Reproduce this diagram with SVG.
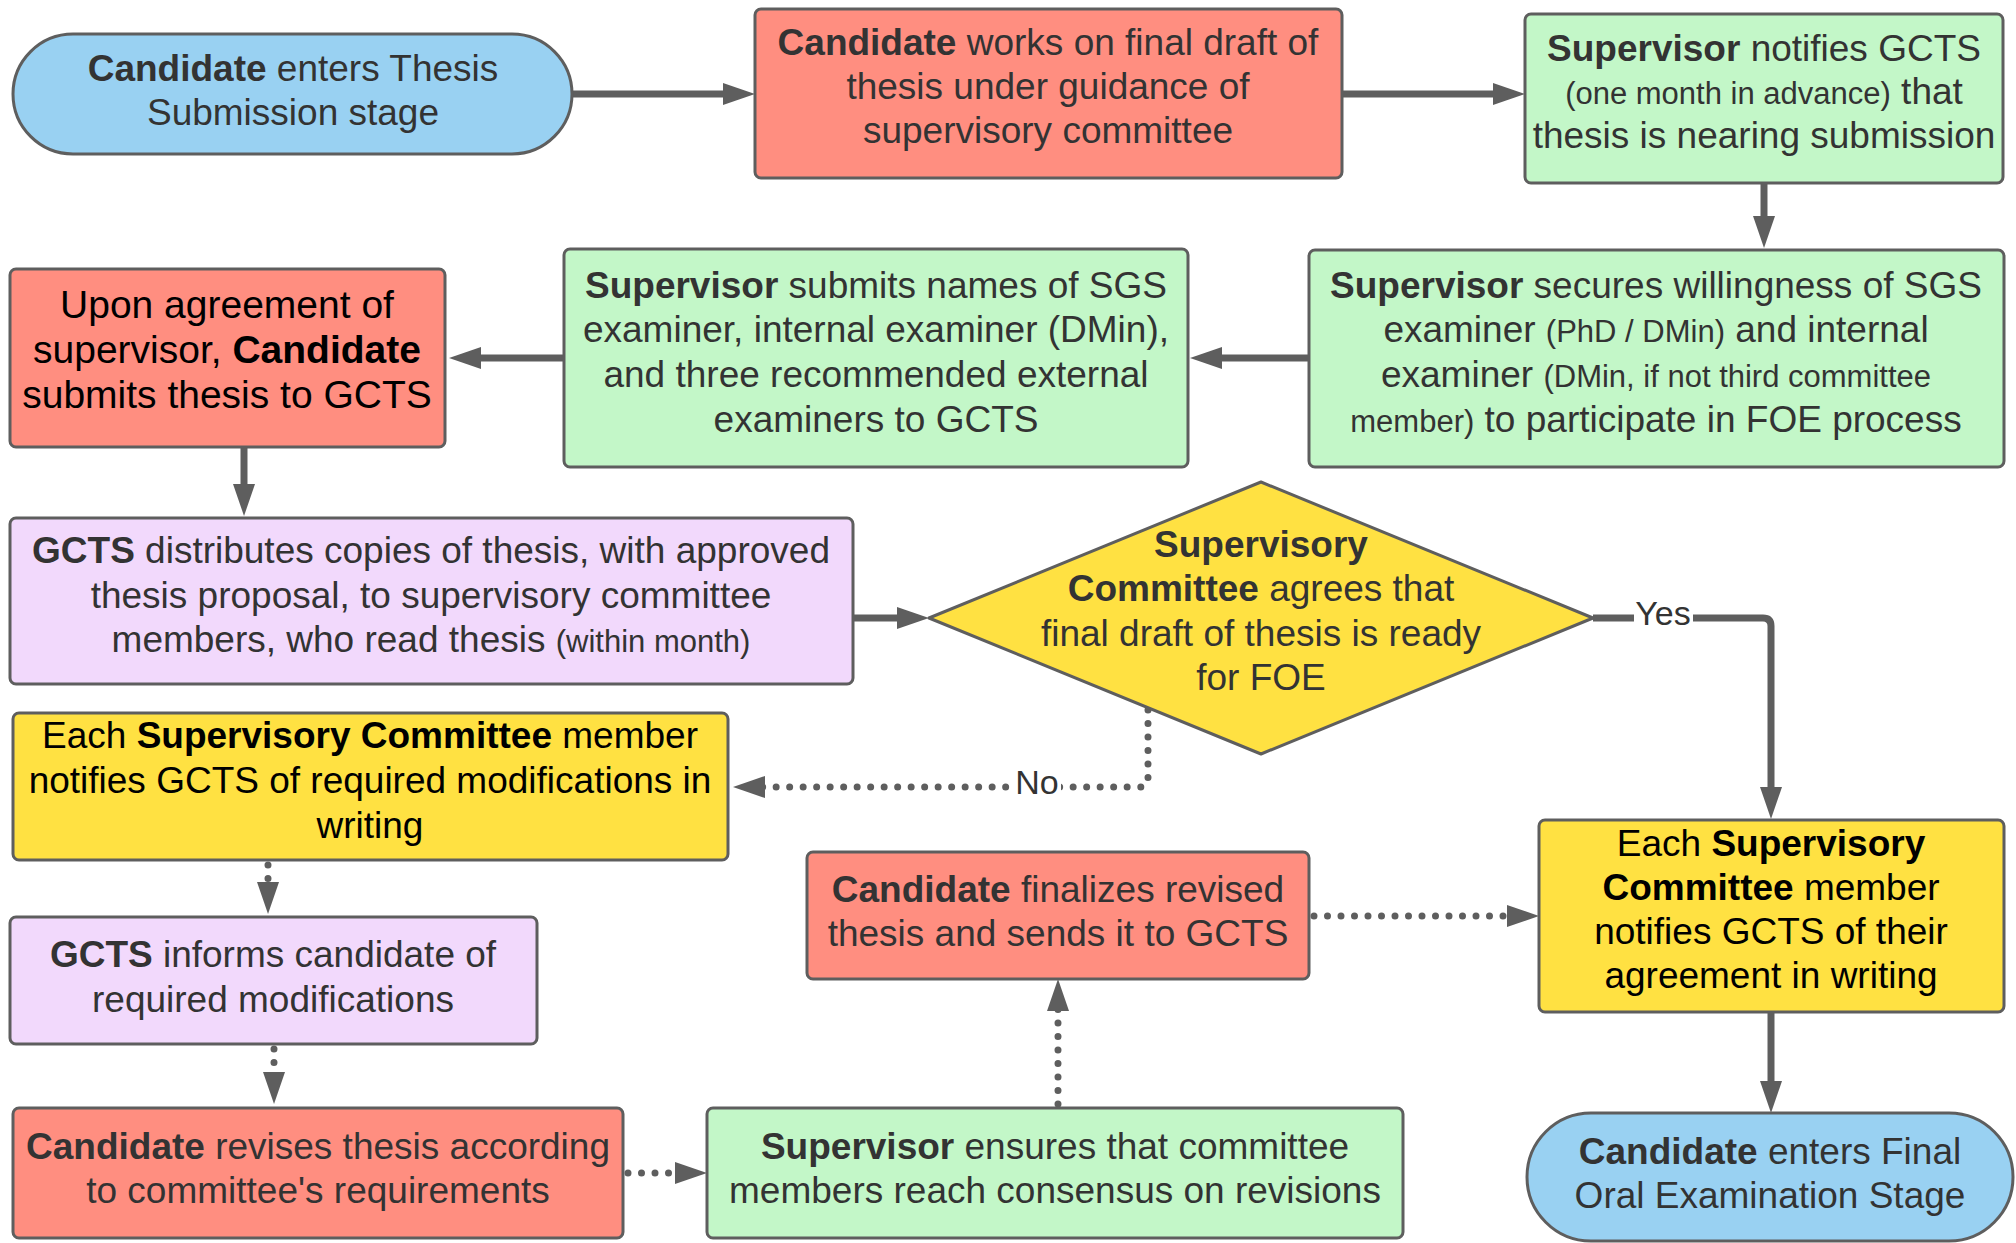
<svg xmlns="http://www.w3.org/2000/svg" width="2016" height="1243" viewBox="0 0 2016 1243">
<style>
text{font-family:"Liberation Sans",Arial,sans-serif;font-size:37px;fill:#333333;text-anchor:middle}
.k{fill:#000000}
.b{font-weight:bold}
.s{font-size:31px}
.big{font-size:39px}
.n{stroke:#5E5E5E;stroke-width:3}
.blue{fill:#99D1F2}.red{fill:#FF8E80}.green{fill:#C3F7C8}.purple{fill:#F2D9FC}.yellow{fill:#FFE142}
.c{fill:none;stroke:#5E5E5E;stroke-width:7}
.d{stroke-dasharray:0 13.5;stroke-linecap:round}
.lbl{fill:#333333;font-size:34px}
</style>
<defs>
<marker id="ah" markerUnits="userSpaceOnUse" viewBox="0 0 32 22" refX="12" refY="11" markerWidth="32" markerHeight="22" orient="auto">
<path d="M0 0 L32 11 L0 22 z" fill="#5E5E5E"/>
</marker>
</defs>
<rect width="2016" height="1243" fill="#FFFFFF"/>
<g id="connectors">
<path class="c" d="M572 94 H735" marker-end="url(#ah)"/>
<path class="c" d="M1342 94 H1505" marker-end="url(#ah)"/>
<path class="c" d="M1764 183 V228" marker-end="url(#ah)"/>
<path class="c" d="M1309 358 H1210" marker-end="url(#ah)"/>
<path class="c" d="M564 358 H469" marker-end="url(#ah)"/>
<path class="c" d="M244 447 V496" marker-end="url(#ah)"/>
<path class="c" d="M853 618 H909" marker-end="url(#ah)"/>
<path class="c" d="M1593 618 H1763 Q1771 618 1771 626 V799" marker-end="url(#ah)"/>
<path class="c d" d="M1148 710 V779 Q1148 787 1140 787 H753" marker-end="url(#ah)"/>
<path class="c d" d="M268 865 V894" marker-end="url(#ah)"/>
<path class="c d" d="M274 1049 V1084" marker-end="url(#ah)"/>
<path class="c d" d="M628 1173 H687" marker-end="url(#ah)"/>
<path class="c d" d="M1058 1104 V999" marker-end="url(#ah)"/>
<path class="c d" d="M1314 916 H1519" marker-end="url(#ah)"/>
<path class="c" d="M1771 1012 V1093" marker-end="url(#ah)"/>
<rect x="1634" y="596" width="59" height="38" fill="#FFFFFF"/>
<text class="lbl" x="1663" y="625">Yes</text>
<rect x="1013" y="766" width="48" height="40" fill="#FFFFFF"/>
<text class="lbl" x="1037" y="794">No</text>
</g>
<g id="n1">
<rect class="n blue" x="13" y="34" width="559" height="120" rx="60"/>
<text x="293" y="81"><tspan class="b">Candidate</tspan> enters Thesis</text>
<text x="293" y="125">Submission stage</text>
</g>
<g id="n2">
<rect class="n red" x="755" y="9" width="587" height="169" rx="6"/>
<text x="1048" y="55"><tspan class="b">Candidate</tspan> works on final draft of</text>
<text x="1048" y="99">thesis under guidance of</text>
<text x="1048" y="143">supervisory committee</text>
</g>
<g id="n3">
<rect class="n green" x="1525" y="14" width="478" height="169" rx="6"/>
<text x="1764" y="61"><tspan class="b">Supervisor</tspan> notifies GCTS</text>
<text x="1764" y="104"><tspan class="s">(one month in advance)</tspan> that</text>
<text x="1764" y="148">thesis is nearing submission</text>
</g>
<g id="n4">
<rect class="n green" x="1309" y="250" width="695" height="217" rx="6"/>
<text x="1656" y="298"><tspan class="b">Supervisor</tspan> secures willingness of SGS</text>
<text x="1656" y="342">examiner <tspan class="s">(PhD / DMin)</tspan> and internal</text>
<text x="1656" y="387">examiner <tspan class="s">(DMin, if not third committee</tspan></text>
<text x="1656" y="432"><tspan class="s">member)</tspan> to participate in FOE process</text>
</g>
<g id="n5">
<rect class="n green" x="564" y="249" width="624" height="218" rx="6"/>
<text x="876" y="298"><tspan class="b">Supervisor</tspan> submits names of SGS</text>
<text x="876" y="342">examiner, internal examiner (DMin),</text>
<text x="876" y="387">and three recommended external</text>
<text x="876" y="432">examiners to GCTS</text>
</g>
<g id="n6">
<rect class="n red" x="10" y="269" width="435" height="178" rx="6"/>
<text class="k big" x="227" y="318">Upon agreement of</text>
<text class="k big" x="227" y="363">supervisor, <tspan class="b">Candidate</tspan></text>
<text class="k big" x="227" y="408">submits thesis to GCTS</text>
</g>
<g id="n7">
<rect class="n purple" x="10" y="518" width="843" height="166" rx="6"/>
<text x="431" y="563"><tspan class="b">GCTS</tspan> distributes copies of thesis, with approved</text>
<text x="431" y="608">thesis proposal, to supervisory committee</text>
<text x="431" y="652">members, who read thesis <tspan class="s">(within month)</tspan></text>
</g>
<g id="n8">
<path class="n yellow" d="M1261 482 L1593 618 L1261 754 L929 618 Z" stroke-linejoin="round"/>
<text x="1261" y="557" class="b">Supervisory</text>
<text x="1261" y="601"><tspan class="b">Committee</tspan> agrees that</text>
<text x="1261" y="646">final draft of thesis is ready</text>
<text x="1261" y="690">for FOE</text>
</g>
<g id="n9">
<rect class="n yellow" x="13" y="713" width="715" height="147" rx="6"/>
<text class="k" x="370" y="748">Each <tspan class="b">Supervisory Committee</tspan> member</text>
<text class="k" x="370" y="793">notifies GCTS of required modifications in</text>
<text class="k" x="370" y="838">writing</text>
</g>
<g id="n10">
<rect class="n purple" x="10" y="917" width="527" height="127" rx="6"/>
<text x="273" y="967"><tspan class="b">GCTS</tspan> informs candidate of</text>
<text x="273" y="1012">required modifications</text>
</g>
<g id="n11">
<rect class="n red" x="13" y="1108" width="610" height="130" rx="6"/>
<text x="318" y="1159"><tspan class="b">Candidate</tspan> revises thesis according</text>
<text x="318" y="1203">to committee's requirements</text>
</g>
<g id="n12">
<rect class="n green" x="707" y="1108" width="696" height="130" rx="6"/>
<text x="1055" y="1159"><tspan class="b">Supervisor</tspan> ensures that committee</text>
<text x="1055" y="1203">members reach consensus on revisions</text>
</g>
<g id="n13">
<rect class="n red" x="807" y="852" width="502" height="127" rx="6"/>
<text x="1058" y="902"><tspan class="b">Candidate</tspan> finalizes revised</text>
<text x="1058" y="946">thesis and sends it to GCTS</text>
</g>
<g id="n14">
<rect class="n yellow" x="1539" y="820" width="465" height="192" rx="6"/>
<text class="k" x="1771" y="856">Each <tspan class="b">Supervisory</tspan></text>
<text class="k" x="1771" y="900"><tspan class="b">Committee</tspan> member</text>
<text class="k" x="1771" y="944">notifies GCTS of their</text>
<text class="k" x="1771" y="988">agreement in writing</text>
</g>
<g id="n15">
<rect class="n blue" x="1527" y="1113" width="486" height="128" rx="64"/>
<text x="1770" y="1164"><tspan class="b">Candidate</tspan> enters Final</text>
<text x="1770" y="1208">Oral Examination Stage</text>
</g>
</svg>
